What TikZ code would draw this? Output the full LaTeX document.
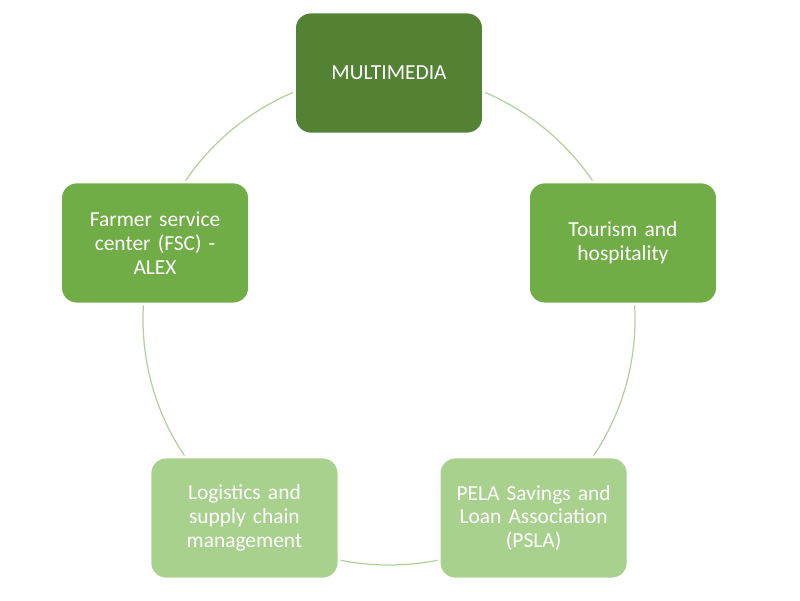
\documentclass[tikz,border=0pt]{standalone}
\usepackage{fontspec}
\setmainfont{Carlito}
\usetikzlibrary{calc}
\definecolor{gdark}{HTML}{548235}
\definecolor{gmid}{HTML}{70AD47}
\definecolor{glight}{HTML}{A9D18E}
\definecolor{gring}{HTML}{B2CF9C}
\tikzset{
  topic/.style={rectangle, rounded corners=0.32cm, draw=white, line width=1.6pt,
    minimum width=3.78cm, minimum height=2.44cm, text width=3.4cm, align=center,
    text=white, font=\fontsize{12.2}{13.6}\selectfont},
  ring/.style={draw=gring, line width=0.7pt}
}
\begin{document}
\begin{tikzpicture}
    \useasboundingbox (0,0) rectangle (16,12);
    %centro e cerchio
    \coordinate (c) at (7.78,5.62);
    \draw[ring] (c) circle (4.92);
    %riquadri
    \node[topic, fill=gdark] (media) at ($(c)+(90:4.92)$) {MULTIMEDIA};
    \node[topic, fill=gmid] (tour) at ($(c)+(18:4.92)$) {Tourism and\\ hospitality};
    \node[topic, fill=glight] (psla) at ($(c)+(-54:4.92)$) {PELA Savings and\\ Loan Association\\ (PSLA)};
    \node[topic, fill=glight] (logi) at ($(c)+(-126:4.92)$) {Logistics and\\ supply chain\\ management};
    \node[topic, fill=gmid] (fsc) at ($(c)+(162:4.92)$) {Farmer service\\ center (FSC) -\\ ALEX};
\end{tikzpicture}
\end{document}
